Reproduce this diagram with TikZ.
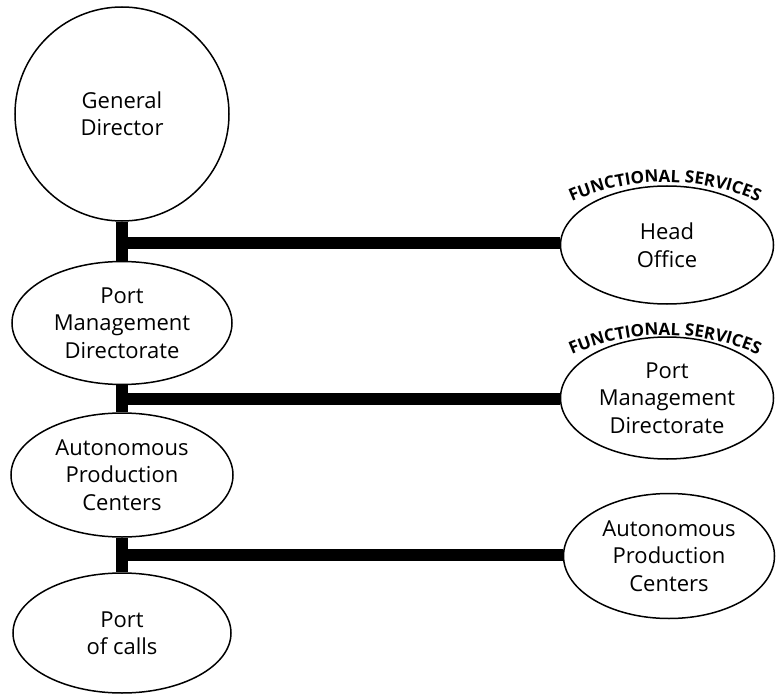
\documentclass[tikz,border=0pt]{standalone}
\usepackage{fontspec}
\setmainfont{Open Sans}
\usepackage{tikz}
\usetikzlibrary{shapes.geometric,decorations.text}
\tikzset{
  font={\fontsize{22pt}{27.5pt}\selectfont},
  unit/.style={draw=black, line width=1.5pt, ellipse, inner sep=0pt, align=center},
  bar/.style={black, line width=12.5pt},
  fs/.style={decorate, decoration={text along path, text align=center,
    text={|\fontsize{17pt}{17pt}\selectfont\bfseries|FUNCTIONAL SERVICES}}}}

\begin{document}
\begin{tikzpicture}[x=1pt,y=1pt]
\useasboundingbox (0,0) rectangle (776,-695);
\node [unit, circle, minimum size=214pt] (gd) at (122,-114) {General\\Director};
\node [unit, minimum width=220pt, minimum height=123pt] (pmd) at (122,-323) {Port\\Management\\Directorate};
\node [unit, minimum width=222pt, minimum height=124pt] (apc) at (122,-475) {Autonomous\\Production\\Centers};
\node [unit, minimum width=218pt, minimum height=120pt] (poc) at (122,-633) {Port\\of calls};
\node [unit, minimum width=213pt, minimum height=118pt] (ho) at (667,-245) {Head\\Office};
\node [unit, minimum width=213pt, minimum height=122pt] (fpmd) at (667,-398) {Port\\Management\\Directorate};
\node [unit, minimum width=211pt, minimum height=125pt] (fapc) at (669,-556) {Autonomous\\Production\\Centers};
\coordinate (j1) at (122,-243);
\coordinate (j2) at (122,-399);
\coordinate (j3) at (122,-555);
\draw [bar] (gd.south) -- (pmd.north);
\draw [bar] (pmd.south) -- (apc.north);
\draw [bar] (apc.south) -- (poc.north);
\draw [bar] (j1) -- (j1 -| ho.west);
\draw [bar] (j2) -- (j2 -| fpmd.west);
\draw [bar] (j3) -- (j3 -| fapc.west);
\path [fs] ([shift={(-117,32.2)}]ho.center) arc [start angle=120, end angle=60, radius=230];
\path [fs] ([shift={(-117,32.2)}]fpmd.center) arc [start angle=120, end angle=60, radius=230];
\end{tikzpicture}
\end{document}
